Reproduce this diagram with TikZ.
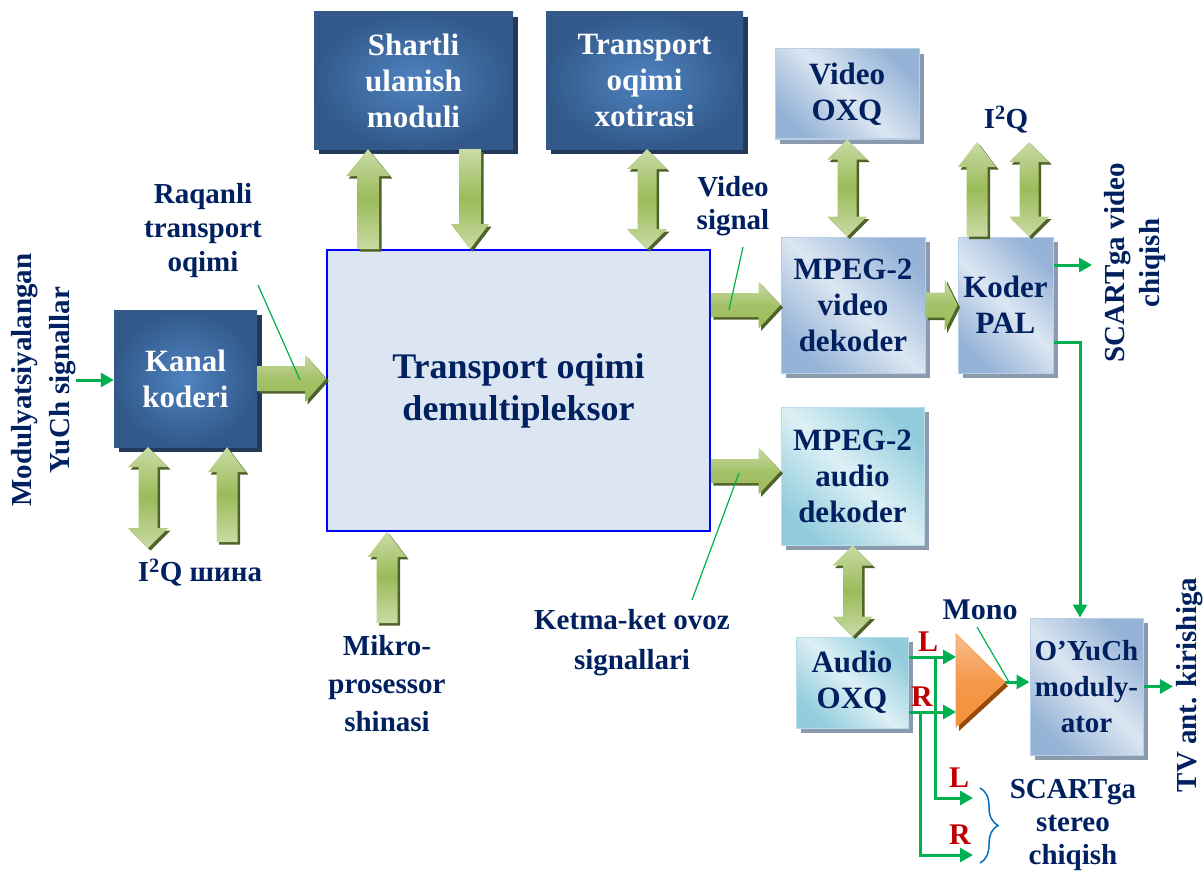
\documentclass[tikz,border=0pt]{standalone}
\usepackage{fontspec}
\setmainfont{Liberation Serif}
\usetikzlibrary{calc,arrows.meta,shadows,decorations.pathreplacing}
\definecolor{navy}{HTML}{002060}
\definecolor{dkin}{HTML}{4F83C0}
\definecolor{dkout}{HTML}{32598A}
\definecolor{dkshadow}{HTML}{22395A}
\definecolor{lbdark}{HTML}{95B3D7}
\definecolor{lblight}{HTML}{DCE6F2}
\definecolor{lbedge}{HTML}{B9CDE5}
\definecolor{aqdark}{HTML}{93CDDD}
\definecolor{aqlight}{HTML}{DDF0F5}
\definecolor{aqedge}{HTML}{B7DDE8}
\definecolor{ltshadow}{HTML}{8C9AAE}
\definecolor{demuxfill}{HTML}{DCE6F2}
\definecolor{gline}{HTML}{00B050}
\definecolor{redlbl}{HTML}{C00000}
\definecolor{bracec}{HTML}{0070C0}
\definecolor{fatlight}{HTML}{C9DBA5}
\definecolor{fatgreen}{HTML}{9BBB59}
\definecolor{fatshadow}{HTML}{4F6228}
\definecolor{amplight}{HTML}{FAC090}
\definecolor{ampdark}{HTML}{F38F3A}
\definecolor{ampshadow}{HTML}{984807}
\newcommand\boxfont{\fontsize{31}{36}\selectfont\bfseries}
\newcommand\lblfont{\fontsize{29}{34}\selectfont\bfseries}
\pgfkeys{/fat/.cd, w/.store in=\fatW, h/.store in=\fatH, l/.store in=\fatL}
\newcommand\fatS[4][]{%
\begingroup
\pgfkeys{/fat/.cd,w=10.5,h=20,l=22,#1}%
\path[fill=fatshadow] let \p1=(#3), \p2=(#4), \n1={atan2(\y2-\y1,\x2-\x1)}, \n2={veclen(\x2-\x1,\y2-\y1)} in
 [shift={(\p1)}, xshift=2.5pt, yshift=-2.5pt, rotate=\n1]
 (0pt,{\fatW*1pt}) -- ({\n2-\fatL*1pt},{\fatW*1pt}) -- ({\n2-\fatL*1pt},{\fatH*1pt}) -- ({\n2*1pt},0pt) -- ({\n2-\fatL*1pt},{-\fatH*1pt}) -- ({\n2-\fatL*1pt},{-\fatW*1pt}) -- (0pt,{-\fatW*1pt}) -- cycle;
\path[#2] let \p1=(#3), \p2=(#4), \n1={atan2(\y2-\y1,\x2-\x1)}, \n2={veclen(\x2-\x1,\y2-\y1)} in
 [shift={(\p1)}, rotate=\n1]
 (0pt,{\fatW*1pt}) -- ({\n2-\fatL*1pt},{\fatW*1pt}) -- ({\n2-\fatL*1pt},{\fatH*1pt}) -- ({\n2*1pt},0pt) -- ({\n2-\fatL*1pt},{-\fatH*1pt}) -- ({\n2-\fatL*1pt},{-\fatW*1pt}) -- (0pt,{-\fatW*1pt}) -- cycle;
\endgroup}
\newcommand\fatD[4][]{%
\begingroup
\pgfkeys{/fat/.cd,w=9.5,h=20,l=20,#1}%
\path[fill=fatshadow] let \p1=(#3), \p2=(#4), \n1={atan2(\y2-\y1,\x2-\x1)}, \n2={veclen(\x2-\x1,\y2-\y1)} in
 [shift={(\p1)}, xshift=2.5pt, yshift=-2.5pt, rotate=\n1]
 (0pt,0pt) -- ({\fatL*1pt},{\fatH*1pt}) -- ({\fatL*1pt},{\fatW*1pt}) -- ({\n2-\fatL*1pt},{\fatW*1pt}) -- ({\n2-\fatL*1pt},{\fatH*1pt}) -- ({\n2*1pt},0pt) -- ({\n2-\fatL*1pt},{-\fatH*1pt}) -- ({\n2-\fatL*1pt},{-\fatW*1pt}) -- ({\fatL*1pt},{-\fatW*1pt}) -- ({\fatL*1pt},{-\fatH*1pt}) -- cycle;
\path[#2] let \p1=(#3), \p2=(#4), \n1={atan2(\y2-\y1,\x2-\x1)}, \n2={veclen(\x2-\x1,\y2-\y1)} in
 [shift={(\p1)}, rotate=\n1]
 (0pt,0pt) -- ({\fatL*1pt},{\fatH*1pt}) -- ({\fatL*1pt},{\fatW*1pt}) -- ({\n2-\fatL*1pt},{\fatW*1pt}) -- ({\n2-\fatL*1pt},{\fatH*1pt}) -- ({\n2*1pt},0pt) -- ({\n2-\fatL*1pt},{-\fatH*1pt}) -- ({\n2-\fatL*1pt},{-\fatW*1pt}) -- ({\fatL*1pt},{-\fatW*1pt}) -- ({\fatL*1pt},{-\fatH*1pt}) -- cycle;
\endgroup}
\tikzset{
 darkbox/.style={inner color=dkin, outer color=dkout, text=white, font=\boxfont, align=center, inner sep=0pt,
   drop shadow={shadow xshift=5pt, shadow yshift=-5pt, fill=dkshadow, opacity=1}},
 lightbox/.style={top color=lbdark, bottom color=lbdark, middle color=lblight, shading angle=-45, draw=lbedge, line width=1pt,
   text=navy, font=\boxfont, align=center, inner sep=0pt,
   drop shadow={shadow xshift=5pt, shadow yshift=-5pt, fill=ltshadow, opacity=1}},
 aquabox/.style={top color=aqdark, bottom color=aqdark, middle color=aqlight, shading angle=-45, draw=aqedge, line width=1pt,
   text=navy, font=\boxfont, align=center, inner sep=0pt,
   drop shadow={shadow xshift=5pt, shadow yshift=-5pt, fill=ltshadow, opacity=1}},
 demuxbox/.style={fill=demuxfill, draw=blue, line width=1.6pt, text=navy, align=center, inner sep=0pt,
   font=\fontsize{36}{42}\selectfont\bfseries},
 lbl/.style={text=navy, font=\lblfont, align=center, inner sep=0pt},
 rl/.style={text=redlbl, font=\fontsize{30}{34}\selectfont\bfseries, inner sep=0pt},
 gl/.style={draw=gline, line width=3pt, -{Triangle[length=13pt,width=14pt]}},
 pline/.style={draw=gline, line width=1.2pt},
 fatv/.style={top color=fatlight, bottom color=fatlight, middle color=fatgreen},
 fath/.style={top color=fatlight, bottom color=fatgreen, middle color=fatgreen!80!fatlight},
 bracestyle/.style={draw=bracec, line width=1.5pt, decorate, decoration={brace, amplitude=18pt}},
}
\begin{document}
\begin{tikzpicture}[x=1pt,y=-1pt]
\useasboundingbox (0,0) rectangle (1204,872);
% boxes
\node[darkbox, minimum width=143pt, minimum height=137pt] (kanal) at (185.5,378.5) {Kanal\\koderi};
\node[darkbox, minimum width=199pt, minimum height=137pt] (shartli) at (413.5,80.5) {Shartli\\ulanish\\moduli};
\node[darkbox, minimum width=197pt, minimum height=137pt] (xotira) at (644.5,80.5) {Transport\\oqimi\\xotirasi};
\node[demuxbox, minimum width=383pt, minimum height=281pt] (demux) at (518.5,390.5) {Transport oqimi\\demultipleksor};
\node[lightbox, minimum width=144pt, minimum height=90pt] (voxq) at (847,94) {Video\\OXQ};
\node[lightbox, minimum width=144pt, minimum height=136pt] (mpegv) at (853,305) {MPEG-2\\video\\dekoder};
\node[lightbox, minimum width=95pt, minimum height=136pt] (pal) at (1005.5,305) {Koder\\PAL};
\node[aquabox, minimum width=143pt, minimum height=138pt] (mpega) at (852.5,476) {MPEG-2\\audio\\dekoder};
\node[aquabox, minimum width=112pt, minimum height=91pt] (aoxq) at (852,682.5) {Audio\\OXQ};
\node[lightbox, minimum width=113pt, minimum height=137pt, font=\fontsize{29}{36}\selectfont\bfseries] (mod) at (1086.5,686.5) {O’YuCh\\moduly-\\ator};
% amplifier
\coordinate (ampA) at (956,634);
\coordinate (ampB) at (956,727);
\coordinate (amptip) at (1005,682);
\fill[ampshadow] ($(ampA)+(3,4)$) -- ($(amptip)+(3,4)$) -- ($(ampB)+(3,4)$) -- cycle;
\path[top color=amplight, bottom color=ampdark, middle color=ampdark!80!amplight, draw=ampdark!70!amplight, line width=0.8pt] (ampA) -- (amptip) -- (ampB) -- cycle;
% labels
\node[lbl, rotate=90, font=\fontsize{29}{38}\selectfont\bfseries] (modsig) at (44,380) {Modulyatsiyalangan\\YuCh signallar};
\node[lbl] (raq) at (203,231) {Raqanli\\transport\\oqimi};
\node[lbl] (i2qa) at (200,573) {I\textsuperscript{2}Q шина};
\node[lbl, font=\fontsize{29}{38}\selectfont\bfseries] (mikro) at (387,684) {Mikro-\\prosessor\\shinasi};
\node[lbl, font=\fontsize{29}{40}\selectfont\bfseries] (ketma) at (632,643) {Ketma-ket ovoz\\signallari};
\node[lbl, font=\fontsize{29}{33}\selectfont\bfseries] (vsig) at (733,206) {Video\\signal};
\node[lbl] (i2qb) at (1006,120) {I\textsuperscript{2}Q};
\node[lbl, rotate=90, font=\fontsize{29}{35}\selectfont\bfseries] (scartv) at (1135,263) {SCARTga video\\chiqish};
\node[lbl, rotate=90, font=\fontsize{29}{35}\selectfont\bfseries] (tvant) at (1190,685) {TV ant. kirishiga};
\node[lbl, font=\fontsize{30}{34}\selectfont\bfseries] (mono) at (980,610) {Mono};
\node[lbl, font=\fontsize{29}{33}\selectfont\bfseries] (scarts) at (1073,825) {SCARTga\\stereo\\chiqish};
\node[rl] (lA) at (928,642) {L};
\node[rl] (rA) at (922,697) {R};
\node[rl] (lB) at (959,778) {L};
\node[rl] (rB) at (960,835) {R};
% coordinates for fat arrows
\coordinate (ka) at (148,548);
\coordinate (kb) at (227,542);
\coordinate (s1) at (368,0);
\coordinate (s2) at (470,0);
\coordinate (s3) at (647,0);
\coordinate (pu) at (977,142);
\coordinate (pd) at (1029,142);
\coordinate (mk) at (387,623);
\coordinate (aud) at ($(mpega.west)+(0,-5)$);
% fat arrows
\fatS[w=12.5,h=23.5,l=21]{fath}{kanal.east}{kanal.east -| demux.west}
\fatS[w=12,h=23.5,l=22]{fath}{demux.east |- mpegv.west}{mpegv.west}
\fatS[w=12.5,h=26,l=13]{fath}{mpegv.east}{pal.west}
\fatS[w=12,h=23.5,l=22]{fath}{demux.east |- aud}{aud}
\fatD{fatv}{ka |- kanal.south}{ka}
\fatS[w=10.5,h=19,l=25]{fatv}{kb}{kb |- kanal.south}
\fatS[w=11,h=22,l=27]{fatv}{s1 |- demux.north}{s1 |- shartli.south}
\fatS[w=11,h=19,l=25]{fatv}{s2 |- shartli.south}{s2 |- demux.north}
\fatD{fatv}{s3 |- xotira.south}{s3 |- demux.north}
\fatD{fatv}{voxq.south}{voxq.south |- mpegv.north}
\fatS[w=10.5,h=19,l=25]{fatv}{pu |- pal.north}{pu}
\fatD{fatv}{pd |- pal.north}{pd}
\fatD{fatv}{mpega.south}{mpega.south |- aoxq.north}
\fatS[w=10.5,h=19,l=25]{fatv}{mk}{mk |- demux.south}
% green connectors
\coordinate (inp) at (76,380);
\draw[gl] (inp) -- (inp -| kanal.west);
\coordinate (scv) at (1092,265);
\draw[gl] (scv -| pal.east) -- (scv);
\draw[gl] ($(pal.south east)+(0,-31)$) -| ($(mod.north)+(-6.5,0)$);
\draw[gl] (amptip) -- (amptip -| mod.west);
\coordinate (tvout) at (1173,686.5);
\draw[gl] (mod.east) -- (tvout);
\coordinate (Lo) at ($(aoxq.east)+(0,-25.5)$);
\coordinate (Ro) at ($(aoxq.east)+(0,29.5)$);
\draw[gl] (Lo) -- (Lo -| ampA);
\draw[gl] (Ro) -- (Ro -| ampA);
\coordinate (scL) at (973,798);
\coordinate (scR) at (973,855);
\draw[gl] ($(Lo)+(27,0)$) |- (scL);
\draw[gl] ($(Ro)+(12,0)$) |- (scR);
% pointer lines
\coordinate (p1a) at (258,285); \coordinate (p1b) at (300,380);
\draw[pline] (p1a) -- (p1b);
\coordinate (p2a) at (743,247); \coordinate (p2b) at (729,310);
\draw[pline] (p2a) -- (p2b);
\coordinate (p3a) at (739,473); \coordinate (p3b) at (692,600);
\draw[pline] (p3a) -- (p3b);
\coordinate (p4a) at (977,627); \coordinate (p4b) at (1009,682);
\draw[pline] (p4a) -- (p4b);
% brace
\coordinate (brt) at (980,788); \coordinate (brb) at (980,863);
\draw[bracestyle] (brt) -- (brb);
\end{tikzpicture}
\end{document}
